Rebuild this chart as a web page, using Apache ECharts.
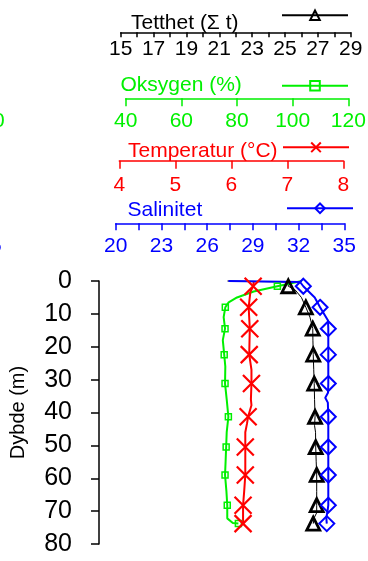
<!DOCTYPE html>
<html><head><meta charset="utf-8">
<script src="https://cdn.jsdelivr.net/npm/echarts@6/dist/echarts.min.js"></script>
<style>html,body{margin:0;padding:0;background:#fff}#c{width:368px;height:561px}</style>
</head><body><div id="c"></div>
<script>
const FONT = '"Liberation Sans", Arial, sans-serif';

// ---- data ----
const depthTicks = [0, 10, 20, 30, 40, 50, 60, 70, 80];
const markerDepths = [1.6, 8, 14.5, 22.4, 31.2, 41.3, 50.5, 59, 68.2, 73.8];

const tetthetDepth = [0, 0.3, 1.6, 2.6, 5, 8, 11, 14.5, 18, 22.4, 27, 31.2, 36, 41.3, 44, 46, 50.5, 55, 59, 64, 68.2, 70.5, 72, 73.8];
const tetthet      = [21.5, 25.2, 25.2, 25.6, 26.0, 26.27, 26.52, 26.69, 26.70, 26.72, 26.75, 26.78, 26.80, 26.83, 26.80, 26.86, 26.87, 26.90, 26.93, 26.93, 26.93, 26.93, 26.78, 26.72];

const oksygenDepth = [0, 1.6, 3.2, 5, 6.5, 8, 11, 14.5, 18, 22.4, 26, 31.2, 36, 41.3, 46, 50.5, 55, 59, 64, 68.2, 72.2, 73.6, 73.8];
const oksygen      = [103.3, 94.5, 86, 80, 77, 75.8, 75.2, 75.7, 74.9, 75.4, 75.8, 75.7, 76.3, 76.9, 76.3, 76.1, 75.9, 75.7, 76.2, 76.5, 76.5, 78.5, 80.5];

const temperaturDepth = [0.3, 1.6, 3.4, 8, 14.5, 22.4, 27, 31.2, 36, 37.8, 41.3, 43.4, 46, 50.5, 59, 64, 68.2, 73.8];
const temperatur      = [6.40, 6.39, 6.34, 6.31, 6.33, 6.32, 6.36, 6.36, 6.35, 6.36, 6.30, 6.28, 6.25, 6.25, 6.25, 6.23, 6.21, 6.21];

const salinitetDepth = [0, 0.3, 1.6, 5, 8, 12, 14.5, 22.4, 31.2, 34, 35.5, 37, 41.3, 50.5, 59, 68.2, 70, 72, 73.8];
const salinitet      = [27.4, 32.1, 32.31, 33.06, 33.41, 33.93, 33.95, 33.95, 33.95, 33.93, 33.75, 33.92, 33.95, 33.95, 33.95, 33.95, 33.9, 33.82, 33.85];

const tetthetTicks = [15, 17, 19, 21, 23, 25, 27, 29];
const oksygenTicks = [40, 60, 80, 100, 120];
const temperaturTicks = [4, 5, 6, 7, 8];
const salinitetTicks = [20, 23, 26, 29, 32, 35];

// ---- build ----
function build(depths, vals) {
  return depths.map((d, i) => {
    const item = { value: [vals[i], d] };
    if (markerDepths.indexOf(d) < 0) item.symbol = 'none';
    return item;
  });
}

const GREEN = '#00f000';
const GT = 281, GH = 263;
const grids = [
  { left: 99, top: GT, width: 250, height: GH },
  { left: 120.7, top: GT, width: 230, height: GH },
  { left: 125.7, top: GT, width: 222.6, height: GH },
  { left: 119.3, top: GT, width: 224, height: GH },
  { left: 115.7, top: GT, width: 228.6, height: GH }
].map(g => Object.assign({ outerBoundsMode: 'none', containLabel: false }, g));

function topAxis(gi, ticks, min, max, interval, color, axisY, tickLen, margin, labelInterval) {
  return {
    type: 'value', gridIndex: gi, position: 'top', offset: GT - axisY,
    min: min, max: max, interval: interval,
    axisLine: { show: true, onZero: false, lineStyle: { color: color, width: 1.5 } },
    axisTick: { show: true, inside: true, length: tickLen, lineStyle: { color: color, width: 1.5 } },
    axisLabel: {
      inside: true, margin: margin, color: color, fontSize: 21, fontFamily: FONT,
      interval: labelInterval, showMinLabel: true, showMaxLabel: true,
      formatter: v => (ticks.indexOf(Math.round(v * 1000) / 1000) >= 0 ? String(v) : '')
    },
    splitLine: { show: false }
  };
}

const xAxes = [
  { type: 'value', gridIndex: 0, min: 0, max: 1, show: false, axisLine: { onZero: false } },
  topAxis(1, tetthetTicks, 15, 29, 1, '#000', 32.3, 5, 6, 0),
  topAxis(2, oksygenTicks, 40, 120, 20, GREEN, 98.3, 8, 12.5, 0),
  topAxis(3, temperaturTicks, 4, 8, 1, '#ff0000', 160.7, 8, 13.8, 0),
  topAxis(4, salinitetTicks, 20, 35, 1.5, '#0000ff', 223.3, 7, 12.9, 0)
];

const yAxes = [0, 1, 2, 3, 4].map(gi => ({
  type: 'value', gridIndex: gi, min: 0, max: 80, interval: 10, inverse: true,
  show: gi === 0,
  name: gi === 0 ? 'Dybde (m)' : '', nameLocation: 'middle', nameGap: 71,
  nameTextStyle: { fontSize: 20, fontFamily: FONT, color: '#000' },
  axisLine: { show: true, onZero: false, lineStyle: { color: '#000', width: 1.5 } },
  axisTick: { show: true, length: 8, lineStyle: { color: '#000', width: 1.5 } },
  axisLabel: { margin: 27, fontSize: 25, fontFamily: FONT, color: '#000',
    formatter: v => (depthTicks.indexOf(v) >= 0 ? String(v) : '') },
  splitLine: { show: false }
}));

const crossPath = 'path://M0,0L10,10M0,10L10,0';

const series = [
  { name: 'Tetthet', type: 'line', xAxisIndex: 1, yAxisIndex: 1, data: build(tetthetDepth, tetthet),
    symbol: 'triangle', symbolSize: 13, clip: false,
    lineStyle: { color: '#000', width: 1 },
    itemStyle: { color: 'rgba(255,255,255,0)', borderColor: '#000', borderWidth: 2.8 } },
  { name: 'Oksygen', type: 'line', xAxisIndex: 2, yAxisIndex: 2, data: build(oksygenDepth, oksygen),
    symbol: 'rect', symbolSize: 6, clip: false,
    lineStyle: { color: GREEN, width: 2 },
    itemStyle: { color: 'rgba(255,255,255,0)', borderColor: GREEN, borderWidth: 1.5 } },
  { name: 'Temperatur', type: 'line', xAxisIndex: 3, yAxisIndex: 3, data: build(temperaturDepth, temperatur),
    symbol: crossPath, symbolSize: 17, clip: false,
    lineStyle: { color: '#ff0000', width: 2 },
    itemStyle: { color: 'rgba(255,255,255,0)', borderColor: '#ff0000', borderWidth: 2.2 } },
  { name: 'Salinitet', type: 'line', xAxisIndex: 4, yAxisIndex: 4, data: build(salinitetDepth, salinitet),
    symbol: 'diamond', symbolSize: 15, clip: false,
    lineStyle: { color: '#0000ff', width: 2 },
    itemStyle: { color: 'rgba(255,255,255,0)', borderColor: '#0000ff', borderWidth: 2 } }
];

function legendAt(name, left, cy) {
  return { data: [name], left: left, top: cy - 6, itemWidth: 66, itemHeight: 12, padding: 0,
    selectedMode: false, formatter: () => '', textStyle: { fontSize: 1 } };
}

function titleAt(text, left, top, color) {
  return { text: text, left: left, top: top, padding: 0,
    textStyle: { fontSize: 21, fontWeight: 'normal', fontFamily: FONT, color: color } };
}

const option = {
  animation: false,
  backgroundColor: '#fff',
  title: [
    titleAt('Tetthet (Σ t)', 131, 12.5, '#000'),
    titleAt('Oksygen (%)', 120.5, 75, GREEN),
    titleAt('Temperatur (°C)', 128, 141, '#ff0000'),
    titleAt('Salinitet', 127.5, 199.5, '#0000ff'),
    titleAt('0', -7, 110.5, GREEN),
    titleAt('5', -10, 236, '#0000ff')
  ],
  legend: [
    legendAt('Tetthet', 281, 15.3),
    legendAt('Oksygen', 281, 85.7),
    legendAt('Temperatur', 282, 147.3),
    legendAt('Salinitet', 286, 208.3)
  ],
  grid: grids,
  xAxis: xAxes,
  yAxis: yAxes,
  series: series
};

const chart = echarts.init(document.getElementById('c'), null, { renderer: 'canvas' });
chart.setOption(option);
</script>
</body></html>
